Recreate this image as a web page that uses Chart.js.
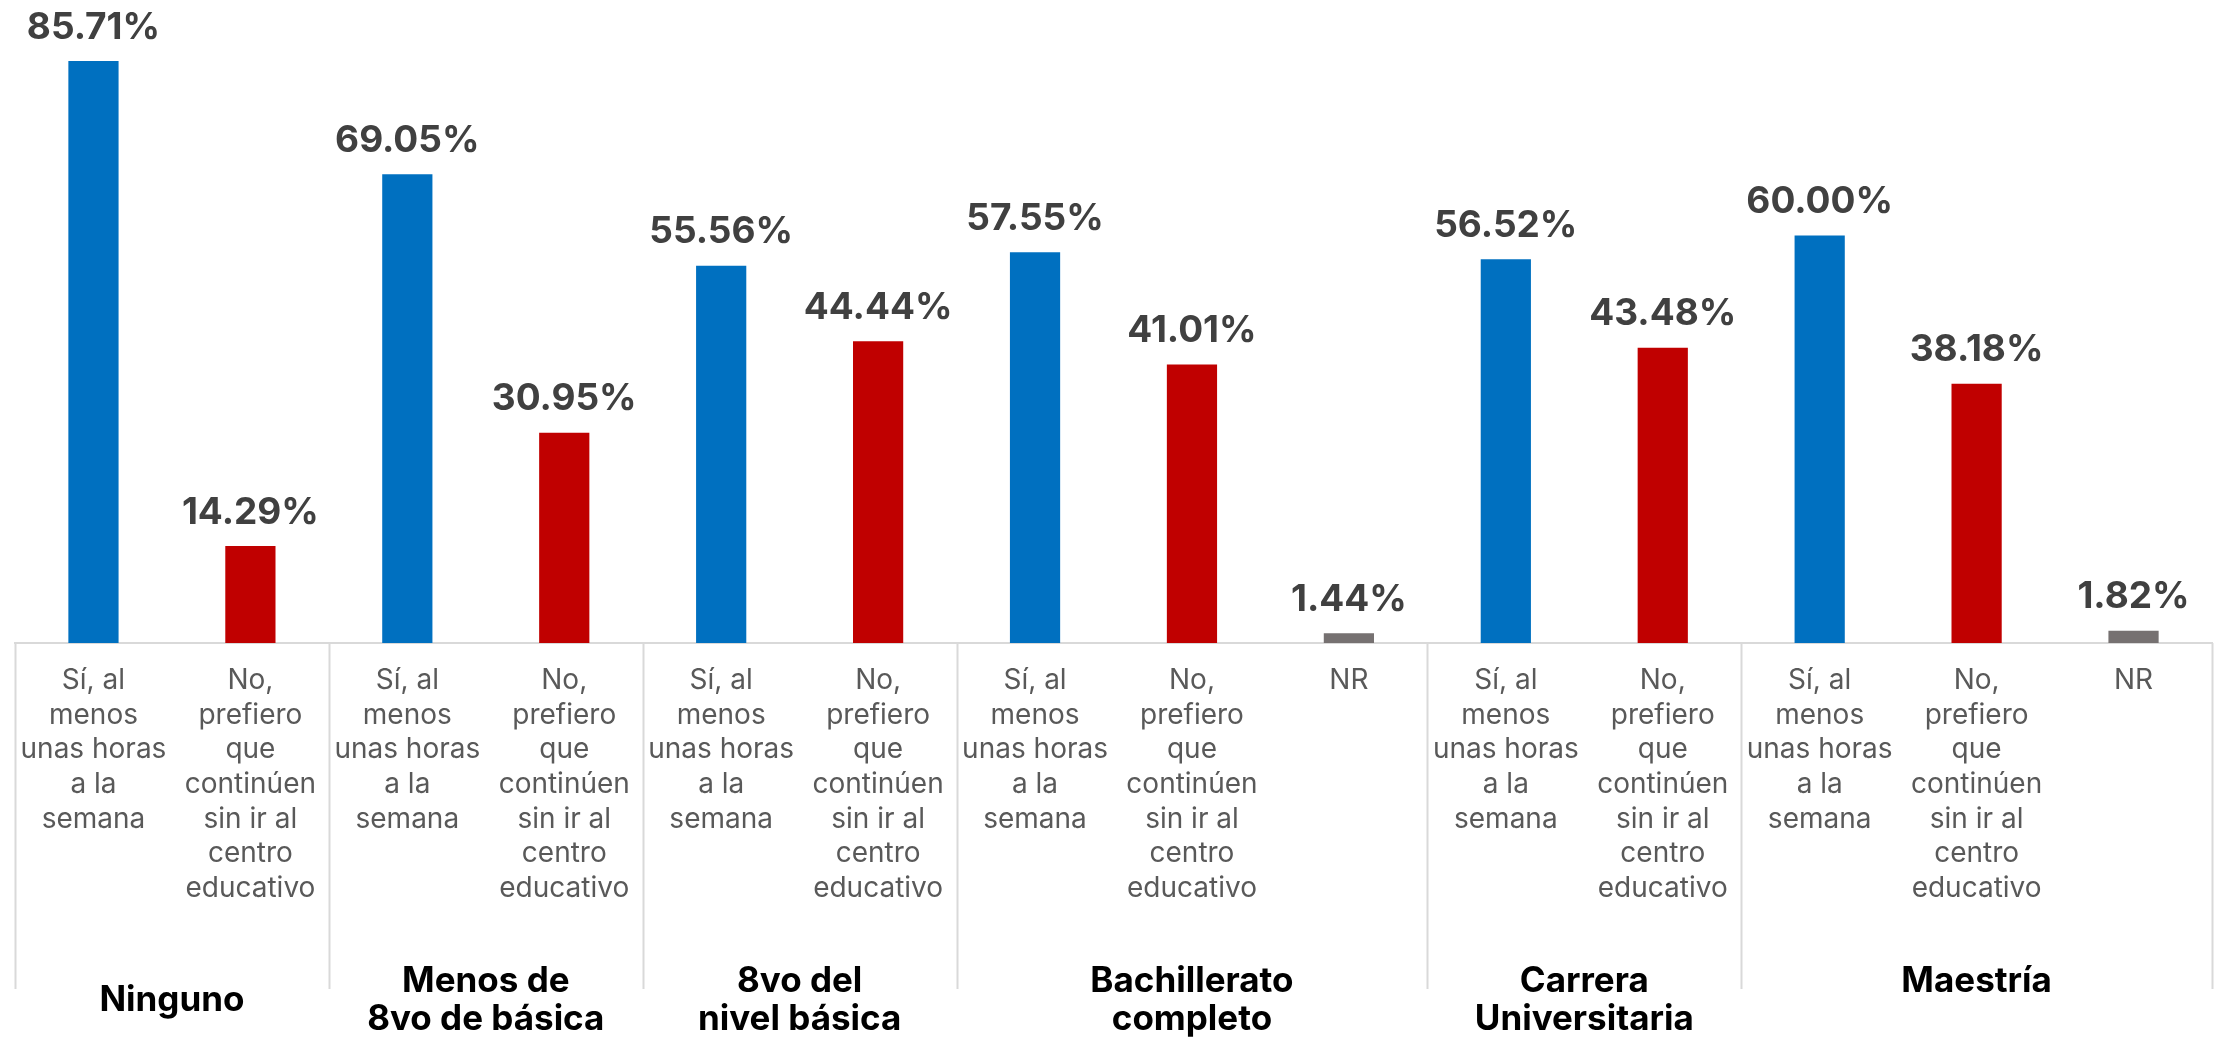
<!DOCTYPE html>
<html>
<head>
<meta charset="utf-8">
<script src="https://cdn.jsdelivr.net/npm/chart.js@4.4.1/dist/chart.umd.min.js"></script>
<style>
  html, body { margin: 0; padding: 0; background: #fff; }
  #wrap { width: 2216px; height: 1045px; }
</style>
</head>
<body>
<div id="wrap"><canvas id="chrt"></canvas></div>
<script>
// education level groups (multi-line labels)
const groups = [
    ['Ninguno'],
    ['Menos de', '8vo de básica'],
    ['8vo del', 'nivel básica'],
    ['Bachillerato', 'completo'],
    ['Carrera', 'Universitaria'],
    ['Maestría', '']
];
// answers
const answers = [
    ['Sí, al', 'menos', 'unas horas', 'a la', 'semana'],
    ['No,', 'prefiero', 'que', 'continúen', 'sin ir al', 'centro', 'educativo'],
    ['NR']
];
const groupOf = [0, 0, 1, 1, 2, 2, 3, 3, 3, 4, 4, 5, 5, 5];
const answerOf = [0, 1, 0, 1, 0, 1, 0, 1, 2, 0, 1, 0, 1, 2];
const values = [85.71, 14.29, 69.05, 30.95, 55.56, 44.44, 57.55, 41.01, 1.44, 56.52, 43.48, 60.00, 38.18, 1.82];

let colors = ['#0070C0', '#C00000', '#767171'];

let labels = answerOf.map(a => answers[a]);

// value labels above bars
const valueLabels = {
    id: 'valueLabels',
    afterDatasetsDraw(chart) {
        let ctx = chart.ctx;
        let meta = chart.getDatasetMeta(0);
        ctx.save();
        ctx.font = 'bold 37px Inter';
        ctx.fillStyle = '#404040';
        ctx.textAlign = 'center';
        ctx.textBaseline = 'bottom';
        meta.data.forEach((bar, i) => {
            ctx.fillText(values[i].toFixed(2) + '%', bar.x, bar.y - 15);
        });
        ctx.restore();
    }
};

// group separators and group names under the axis
const groupAxis = {
    id: 'groupAxis',
    afterDraw(chart) {
        let ctx = chart.ctx;
        let x = chart.scales.x;
        let half = (x.getPixelForValue(1) - x.getPixelForValue(0)) / 2;
        let top = chart.chartArea.bottom;
        ctx.save();
        ctx.strokeStyle = '#D9D9D9';
        ctx.lineWidth = 2;
        let starts = [];
        for (let i = 0; i < groupOf.length; i++) {
            if (i === 0 || groupOf[i] !== groupOf[i - 1]) starts.push(i);
        }
        starts.push(groupOf.length);
        for (let s of starts) {
            let px = Math.round(x.getPixelForValue(s) - half) + 0.5;
            ctx.beginPath();
            ctx.moveTo(px, top);
            ctx.lineTo(px, 989);
            ctx.stroke();
        }
        ctx.font = 'bold 35px Inter';
        ctx.fillStyle = '#000000';
        ctx.textAlign = 'center';
        ctx.textBaseline = 'middle';
        for (let g = 0; g < groups.length; g++) {
            let cx = (x.getPixelForValue(starts[g]) + x.getPixelForValue(starts[g + 1] - 1)) / 2;
            let lines = groups[g];
            let lh = 38;
            let y0 = 1000 - (lines.length - 1) * lh / 2;
            lines.forEach((t, k) => ctx.fillText(t, cx, y0 + k * lh));
        }
        ctx.restore();
    }
};

let chdata = {
    labels: labels,
    datasets: [{
        data: values,
        backgroundColor: answerOf.map(a => colors[a]),
        borderWidth: 0,
        barPercentage: 0.32,
        categoryPercentage: 1.0
    }]
};

let chopts = {
    responsive: false,
    animation: false,
    layout: { padding: { left: 15, right: 4, top: 0, bottom: 0 } },
    plugins: {
        legend: { display: false },
        tooltip: { enabled: false }
    },
    scales: {
        x: {
            grid: { display: false, drawTicks: false },
            border: { display: true, color: '#D9D9D9', width: 2 },
            ticks: {
                autoSkip: false,
                maxRotation: 0,
                padding: 20,
                color: '#595959',
                font: { family: 'Inter', size: 28, lineHeight: 1.24 }
            },
            afterFit(scale) { scale.height = 402; }
        },
        y: {
            display: false,
            min: 0,
            max: 94.7
        }
    }
};

let cv = document.getElementById('chrt');
cv.width = 2216;
cv.height = 1045;
let chrt = cv.getContext('2d');
let myBar = new Chart(chrt, {
    type: 'bar',
    data: chdata,
    options: chopts,
    plugins: [valueLabels, groupAxis]
});
</script>
</body>
</html>
